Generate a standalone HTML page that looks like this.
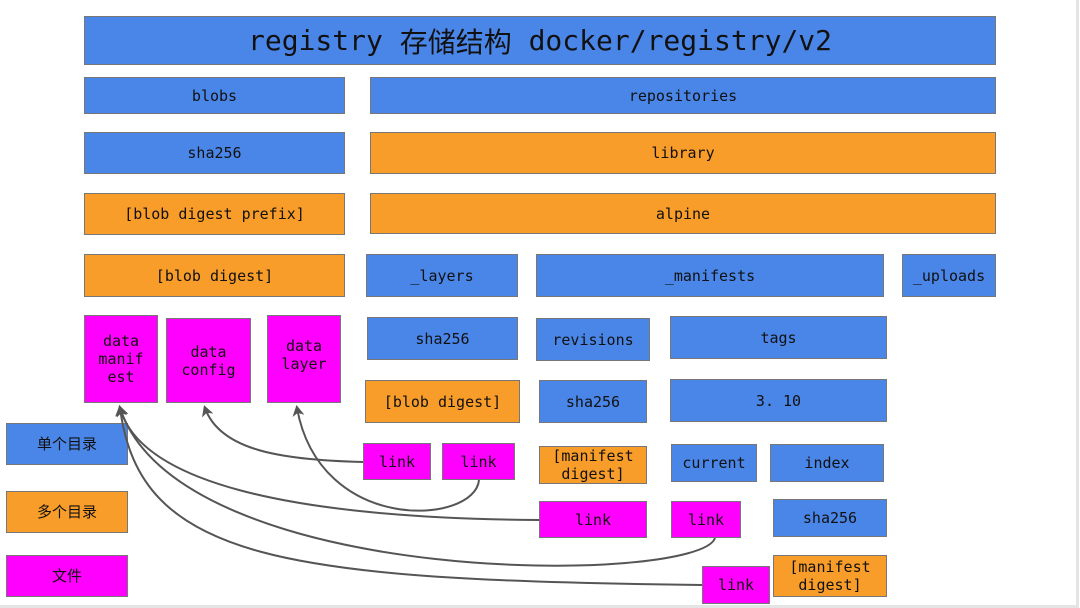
<!DOCTYPE html>
<html><head><meta charset="utf-8"><style>
html,body{margin:0;padding:0;}
body{width:1080px;height:608px;position:relative;background:#fff;overflow:hidden;
font-family:"DejaVu Sans Mono","Liberation Mono","Noto Sans CJK SC",monospace;}
.frame{position:absolute;left:0;top:0;width:1076px;height:605px;border-right:3px solid #e4e4e4;border-bottom:3px solid #e4e4e4;}
.b{position:absolute;box-sizing:border-box;border:1.5px solid #777;display:flex;align-items:center;justify-content:center;text-align:center;color:#111;font-size:15px;line-height:18px;}
.bl{background:#4a86e8;}
.or{background:#f99d2a;}
.mg{background:#ff00ff;}
.cj{font-family:"Noto Sans CJK SC",sans-serif;font-size:15px;}
svg{position:absolute;left:0;top:0;}
</style></head><body>
<div class="frame"></div>
<div class="b bl" style="left:84px;top:16px;width:912px;height:49px;font-size:28px;">registry&nbsp;<span style="font-family:'Noto Sans CJK SC',sans-serif;">存储结构</span>&nbsp;docker/registry/v2</div>
<div class="b bl" style="left:84px;top:77px;width:261px;height:37px;">blobs</div>
<div class="b bl" style="left:370px;top:77px;width:626px;height:37px;">repositories</div>
<div class="b bl" style="left:84px;top:132px;width:261px;height:42px;">sha256</div>
<div class="b or" style="left:370px;top:132px;width:626px;height:42px;">library</div>
<div class="b or" style="left:84px;top:193px;width:261px;height:42px;">[blob digest prefix]</div>
<div class="b or" style="left:370px;top:193px;width:626px;height:41px;">alpine</div>
<div class="b or" style="left:84px;top:254px;width:261px;height:43px;">[blob digest]</div>
<div class="b bl" style="left:366px;top:254px;width:152px;height:43px;">_layers</div>
<div class="b bl" style="left:536px;top:254px;width:348px;height:43px;">_manifests</div>
<div class="b bl" style="left:902px;top:254px;width:94px;height:43px;">_uploads</div>

<div class="b mg" style="left:84px;top:315px;width:74px;height:88px;">data<br>manif<br>est</div>
<div class="b mg" style="left:166px;top:318px;width:85px;height:85px;">data<br>config</div>
<div class="b mg" style="left:267px;top:315px;width:74px;height:88px;padding-bottom:8px;">data<br>layer</div>

<div class="b bl" style="left:367px;top:317px;width:151px;height:43px;">sha256</div>
<div class="b bl" style="left:536px;top:318px;width:114px;height:43px;">revisions</div>
<div class="b bl" style="left:670px;top:316px;width:217px;height:43px;">tags</div>

<div class="b or" style="left:365px;top:380px;width:155px;height:43px;">[blob digest]</div>
<div class="b bl" style="left:539px;top:380px;width:108px;height:43px;">sha256</div>
<div class="b bl" style="left:670px;top:379px;width:217px;height:43px;">3.&nbsp;10</div>

<div class="b mg" style="left:363px;top:443px;width:68px;height:37px;">link</div>
<div class="b mg" style="left:442px;top:443px;width:73px;height:37px;">link</div>
<div class="b or" style="left:539px;top:446px;width:108px;height:38px;">[manifest<br>digest]</div>
<div class="b bl" style="left:671px;top:444px;width:86px;height:38px;">current</div>
<div class="b bl" style="left:770px;top:444px;width:114px;height:38px;">index</div>

<div class="b mg" style="left:539px;top:501px;width:108px;height:37px;">link</div>
<div class="b mg" style="left:671px;top:501px;width:70px;height:37px;">link</div>
<div class="b bl" style="left:773px;top:499px;width:114px;height:38px;">sha256</div>

<div class="b or" style="left:773px;top:555px;width:114px;height:42px;">[manifest<br>digest]</div>
<div class="b mg" style="left:702px;top:566px;width:68px;height:38px;">link</div>

<div class="b bl cj" style="left:6px;top:423px;width:122px;height:42px;">单个目录</div>
<div class="b or cj" style="left:6px;top:491px;width:122px;height:42px;">多个目录</div>
<div class="b mg cj" style="left:6px;top:555px;width:122px;height:42px;">文件</div>

<svg width="1080" height="608" viewBox="0 0 1080 608">
<defs><marker id="a" markerWidth="12" markerHeight="12" refX="8" refY="6" orient="auto" markerUnits="userSpaceOnUse">
<path d="M0,0 L11,6 L0,12 L3,6 z" fill="#555"/></marker></defs>
<g fill="none" stroke="#555" stroke-width="2">
<path d="M363,462 C 280,460 220,450 205,408" marker-end="url(#a)"/>
<path d="M479,480 C 475,525 320,535 297,408" marker-end="url(#a)"/>
<path d="M539,520 C 280,518 140,480 120,408" marker-end="url(#a)"/>
<path d="M715,538 C 700,585 180,590 120,408" marker-end="url(#a)"/>
<path d="M702,585 C 280,580 140,560 120,408" marker-end="url(#a)"/>
</g>
</svg>
</body></html>
